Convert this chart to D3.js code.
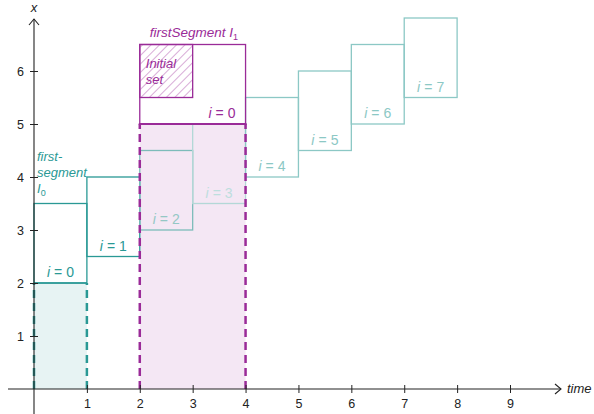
<!doctype html>
<html lang="en">
<head>
  <meta charset="utf-8">
  <title>firstSegment</title>
  <script src="https://cdn.jsdelivr.net/npm/d3@7"></script>
  <style>
    body { margin: 0; background: #fff; }
    text { font-family: "Liberation Sans", Arial, sans-serif; }
  </style>
</head>
<body>
<div id="chart"></div>
<script>
// data
var steps   = [0, 1, 2, 3, 4, 5, 6, 7];
var boxLow  = [2, 2.5, 3, 3.5, 4, 4.5, 5, 5.5];
var boxHigh = [3.5, 4, 4.5, 5, 5.5, 6, 6.5, 7];
var xTicks = [1, 2, 3, 4, 5, 6, 7, 8, 9];
var yTicks = [1, 2, 3, 4, 5, 6];
var seg0Span = [0, 1], seg0Top = 2;
var seg1Span = [2, 4], seg1Top = 5, seg1Box = [5, 6.5];
var initSpan = [2, 3], initSet = [5.5, 6.5];

var W = 594, H = 414;
var teal = "#2a9995", purple = "#9a2b98";
var boxColor = function (i) {
  if (i < 2) return teal;
  if (i == 2) return "#7dbcba";
  if (i == 3) return "#b3d8d7";
  return "#8cc8c5";
};
var labelColor = function (i) {
  if (i < 2) return teal;
  if (i == 2) return "#94c7c5";
  if (i == 3) return "#bedede";
  return "#8cc8c5";
};

var svg = d3.select("#chart").append("svg")
  .attr("width", W).attr("height", H);

var defs = svg.append("defs");
var pat = defs.append("pattern")
  .attr("id", "hatch").attr("patternUnits", "userSpaceOnUse")
  .attr("width", 6).attr("height", 6)
  .attr("patternTransform", "rotate(45)");
pat.append("line").attr("x1", 0).attr("y1", 0).attr("x2", 0).attr("y2", 6)
  .attr("stroke", "#be74bc").attr("stroke-width", 1.2);

var x = d3.scaleLinear().domain([0, 9]).range([34, 510]);
var y = d3.scaleLinear().domain([0, 6]).range([389, 71]);

// filled regions
svg.append("rect")
  .attr("x", x(seg0Span[0])).attr("y", y(seg0Top))
  .attr("width", x(seg0Span[1]) - x(seg0Span[0])).attr("height", y(0) - y(seg0Top))
  .attr("fill", "#e7f3f3");
svg.append("rect")
  .attr("x", x(seg1Span[0])).attr("y", y(seg1Top))
  .attr("width", x(seg1Span[1]) - x(seg1Span[0])).attr("height", y(0) - y(seg1Top))
  .attr("fill", "#f4e7f4");

// "i = n" label helper
function iLabel(g, px, py, n, color, anchor) {
  var t = g.append("text")
    .attr("x", px).attr("y", py)
    .attr("text-anchor", anchor || "middle").attr("font-size", 14)
    .attr("fill", color);
  t.append("tspan").attr("font-style", "italic").text("i");
  t.append("tspan").attr("dx", 4).text("=");
  t.append("tspan").attr("dx", 4).text(n);
  return t;
}

// step boxes
var boxes = svg.append("g");
steps.forEach(function (i) {
  boxes.append("rect")
    .attr("x", x(i)).attr("y", y(boxHigh[i]))
    .attr("width", x(i + 1) - x(i)).attr("height", y(boxLow[i]) - y(boxHigh[i]))
    .attr("fill", "none").attr("stroke", boxColor(i)).attr("stroke-width", 1.3);
  iLabel(boxes, x(i + 0.5), y(boxLow[i]) - 6, i, labelColor(i));
});

// teal segment I0 bounds
[seg0Span[0], seg0Span[1]].forEach(function (t) {
  svg.append("line")
    .attr("x1", x(t)).attr("x2", x(t)).attr("y1", y(0)).attr("y2", y(seg0Top))
    .attr("stroke", teal).attr("stroke-width", 2.5).attr("stroke-dasharray", "8,5");
});
svg.append("line")
  .attr("x1", x(seg0Span[0])).attr("x2", x(seg0Span[1])).attr("y1", y(seg0Top)).attr("y2", y(seg0Top))
  .attr("stroke", teal).attr("stroke-width", 1.5);

// purple segment I1
[seg1Span[0], seg1Span[1]].forEach(function (t) {
  svg.append("line")
    .attr("x1", x(t)).attr("x2", x(t)).attr("y1", y(0)).attr("y2", y(seg1Top))
    .attr("stroke", purple).attr("stroke-width", 2.5).attr("stroke-dasharray", "8,5");
});
svg.append("line")
  .attr("x1", x(seg1Span[0]) - 1).attr("x2", x(seg1Span[1]) + 1).attr("y1", y(seg1Top)).attr("y2", y(seg1Top))
  .attr("stroke", purple).attr("stroke-width", 2);
svg.append("rect")
  .attr("x", x(seg1Span[0])).attr("y", y(seg1Box[1]))
  .attr("width", x(seg1Span[1]) - x(seg1Span[0])).attr("height", y(seg1Box[0]) - y(seg1Box[1]))
  .attr("fill", "none").attr("stroke", purple).attr("stroke-width", 1.3);
svg.append("rect")
  .attr("x", x(initSpan[0])).attr("y", y(initSet[1]))
  .attr("width", x(initSpan[1]) - x(initSpan[0])).attr("height", y(initSet[0]) - y(initSet[1]))
  .attr("fill", "url(#hatch)").attr("stroke", purple).attr("stroke-width", 1.3);

var initText = svg.append("text").attr("fill", purple).attr("font-size", 13)
  .attr("font-style", "italic");
initText.append("tspan").attr("x", x(initSpan[0]) + 6).attr("y", y(6.5) + 23).text("Initial");
initText.append("tspan").attr("x", x(initSpan[0]) + 6).attr("y", y(6.5) + 39).text("set");

iLabel(svg, x(seg1Span[1]) - 10, y(seg1Top) - 6, 0, purple, "end");

var fs = svg.append("text").attr("x", x(seg1Span[0]) + 10).attr("y", y(seg1Box[1]) - 8)
  .attr("font-size", 13.5).attr("fill", purple).attr("font-style", "italic");
fs.append("tspan").text("firstSegment I");
fs.append("tspan").attr("font-size", 9).attr("dy", 3).attr("font-style", "normal").text("1");

var f0 = svg.append("text").attr("font-size", 13).attr("fill", teal).attr("font-style", "italic");
f0.append("tspan").attr("x", 37).attr("y", 161).text("first-");
f0.append("tspan").attr("x", 37).attr("y", 177).text("segment");
var f0b = svg.append("text").attr("x", 37).attr("y", 193).attr("font-size", 13).attr("fill", teal)
  .attr("font-style", "italic");
f0b.append("tspan").text("I");
f0b.append("tspan").attr("font-size", 9).attr("dy", 3).attr("font-style", "normal").text("0");

// axes
var ax = svg.append("g").attr("stroke", "#222").attr("stroke-width", 1.1).attr("fill", "none");
ax.append("line").attr("x1", 8).attr("x2", 561).attr("y1", y(0)).attr("y2", y(0));
ax.append("path").attr("d", "M555," + (y(0) - 5) + "L561," + y(0) + "L555," + (y(0) + 5));
ax.append("line").attr("x1", x(0)).attr("x2", x(0)).attr("y1", 414).attr("y2", 19);
ax.append("path").attr("d", "M" + (x(0) - 5) + ",25L" + x(0) + ",19L" + (x(0) + 5) + ",25");

var xAxis = svg.append("g").attr("transform", "translate(0," + y(0) + ")")
  .call(d3.axisBottom(x).tickValues(xTicks).tickSize(4).tickPadding(6).tickFormat(d3.format("d")));
xAxis.select(".domain").remove();
xAxis.selectAll(".tick line").attr("y1", -4).attr("stroke", "#222");
xAxis.selectAll("text").attr("font-size", 12.5).attr("fill", "#222").attr("font-family", "Liberation Sans, Arial, sans-serif");

var yAxis = svg.append("g").attr("transform", "translate(" + x(0) + ",0)")
  .call(d3.axisLeft(y).tickValues(yTicks).tickSize(4).tickPadding(6).tickFormat(d3.format("d")));
yAxis.select(".domain").remove();
yAxis.selectAll(".tick line").attr("x1", 4).attr("stroke", "#222");
yAxis.selectAll("text").attr("font-size", 12.5).attr("fill", "#222").attr("font-family", "Liberation Sans, Arial, sans-serif");

svg.append("text").attr("x", 567).attr("y", y(0) + 4).attr("font-size", 13)
  .attr("font-style", "italic").attr("fill", "#222").text("time");
svg.append("text").attr("x", x(0)).attr("y", 12).attr("text-anchor", "middle").attr("font-size", 13)
  .attr("font-style", "italic").attr("fill", "#222").text("x");
</script>
</body>
</html>
